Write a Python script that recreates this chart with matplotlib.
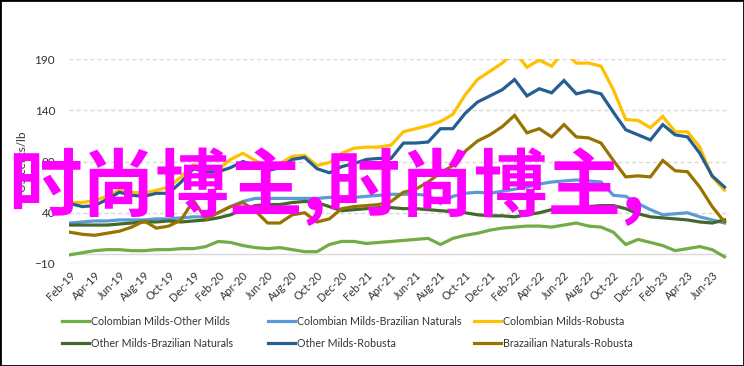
import matplotlib.pyplot as plt
import numpy as np
from matplotlib.patches import Rectangle

# monthly, Feb-19 .. Jul-23
month_names = ['Jan', 'Feb', 'Mar', 'Apr', 'May', 'Jun', 'Jul', 'Aug', 'Sep', 'Oct', 'Nov', 'Dec']
labels = []
for k in range(54):
    m = (1 + k) % 12
    yr = 19 + (1 + k) // 12
    labels.append('%s-%d' % (month_names[m], yr))

cm_om = [-1, 1, 3, 4, 4, 3, 3, 4, 4, 5, 5, 7, 12, 11, 8, 6, 5, 6, 4, 2, 2, 9, 12, 12, 10, 11, 12,
         13, 14, 15, 9, 15, 18, 20, 23, 25, 26, 27, 27, 26, 28, 30, 27, 26, 21, 9, 14, 11, 8, 3, 5, 7, 4, -3]
cm_bn = [30, 31, 32, 32, 33, 33, 33, 34, 34, 35, 36, 36, 40, 46, 51, 54, 54, 54, 54, 54, 54, 55, 55, 55,
         56, 57, 58, 58, 58, 57, 49, 56, 59, 60, 59, 61, 63, 65, 68, 70, 71, 72, 71, 70, 57, 56, 49, 43,
         38, 39, 40, 36, 33, 30]
cm_r = [50, 50, 52, 56, 62, 60, 59, 62, 65, 75, 87, 83, 82, 92, 98, 91, 85, 88, 95, 96, 86, 89, 98, 103,
        104, 104, 106, 119, 122, 125, 129, 136, 155, 170, 178, 186, 197, 182, 189, 183, 198, 186, 186,
        183, 160, 131, 130, 123, 134, 119, 119, 104, 75, 62]
om_bn = [28, 28, 28, 28, 29, 30, 31, 31, 32, 31, 32, 33, 35, 38, 43, 47, 48, 48, 50, 51, 50, 46, 42, 43,
         44, 45, 45, 44, 44, 43, 42, 41, 40, 38, 37, 37, 36, 38, 40, 43, 44, 42, 46, 47, 47, 44, 39, 36,
         35, 34, 33, 31, 30, 33]
om_r = [49, 46, 47, 53, 60, 57, 56, 59, 59, 70, 83, 80, 80, 84, 90, 86, 81, 84, 92, 94, 83, 79, 85, 88,
        92, 93, 93, 108, 108, 109, 122, 122, 137, 148, 154, 160, 170, 154, 161, 157, 169, 156, 159, 156,
        138, 121, 116, 111, 126, 116, 114, 98, 76, 65]
bn_r = [21, 19, 18, 20, 22, 26, 32, 25, 27, 33, 52, 34, 40, 46, 50, 42, 30, 30, 38, 40, 31, 34, 44, 46,
        47, 48, 51, 60, 63, 70, 79, 86, 100, 110, 116, 124, 135, 118, 122, 114, 126, 114, 113, 108, 91,
        75, 76, 75, 91, 81, 80, 65, 46, 31]

names = ['Colombian Milds-Other Milds', 'Colombian Milds-Brazilian Naturals', 'Colombian Milds-Robusta',
         'Other Milds-Brazilian Naturals', 'Other Milds-Robusta', 'Brazailian Naturals-Robusta']
series = [cm_om, cm_bn, cm_r, om_bn, om_r, bn_r]
colors = ['#70ad47', '#5b9bd5', '#ffc000', '#43682b', '#255e91', '#997300']

plt.rcParams['font.family'] = ['Lato', 'DejaVu Sans']

fig = plt.figure(figsize=(7.44, 3.66), dpi=100)
ax = fig.add_axes([69 / 744, 102 / 366, 658 / 744, 205 / 366])

x = np.arange(len(labels))
lines = []
for s, c, n in zip(series, colors, names):
    ln, = ax.plot(x, s, color=c, lw=2.3, label=n, solid_joinstyle='miter')
    lines.append(ln)

ax.set_ylim(-10, 190)
ax.set_xlim(-0.08, 53.2)
ax.set_yticks([-10, 40, 90, 140, 190])
ax.set_xticks(x[::2])
ax.set_xticklabels(labels[::2], rotation=45, ha='right', rotation_mode='anchor')
ax.tick_params(length=0, labelsize=8, colors='#333333', pad=4)
ax.tick_params(axis='y', pad=10, labelsize=8.5)
ax.grid(axis='y', ls=(0, (3, 2)), color='#d9d9d9', lw=1)
ax.axhline(0, color='#d9d9d9', lw=1, zorder=0)
ax.set_axisbelow(True)
for sp in ax.spines.values():
    sp.set_visible(False)
ax.set_ylabel('US cents/lb', fontsize=8.5, color='#333333')
ax.yaxis.set_label_coords(-0.063, 0.5)

# legend: 3 columns of 2 rows
col_x = [62, 268, 474]
for j in range(3):
    fig.legend([lines[j], lines[j + 3]], [names[j], names[j + 3]], loc='upper left',
               bbox_to_anchor=(col_x[j] / 744, 50 / 366), frameon=False, fontsize=7.7,
               handlelength=2.5, handletextpad=0.2, labelspacing=1.05, borderpad=0,
               borderaxespad=0, labelcolor='#333333')

# overlay text
fig.text(8 / 744, 1 - 187 / 366, '时尚博主,时尚博主,', color='#ff00ff', fontsize=53, fontweight='bold',
         family=['Noto Sans CJK SC', 'DejaVu Sans'], va='center', ha='left')

fig.add_artist(Rectangle((0, 0), 1, 1, transform=fig.transFigure, fill=False, ec='black', lw=2))

plt.savefig('out.png', dpi=100)
